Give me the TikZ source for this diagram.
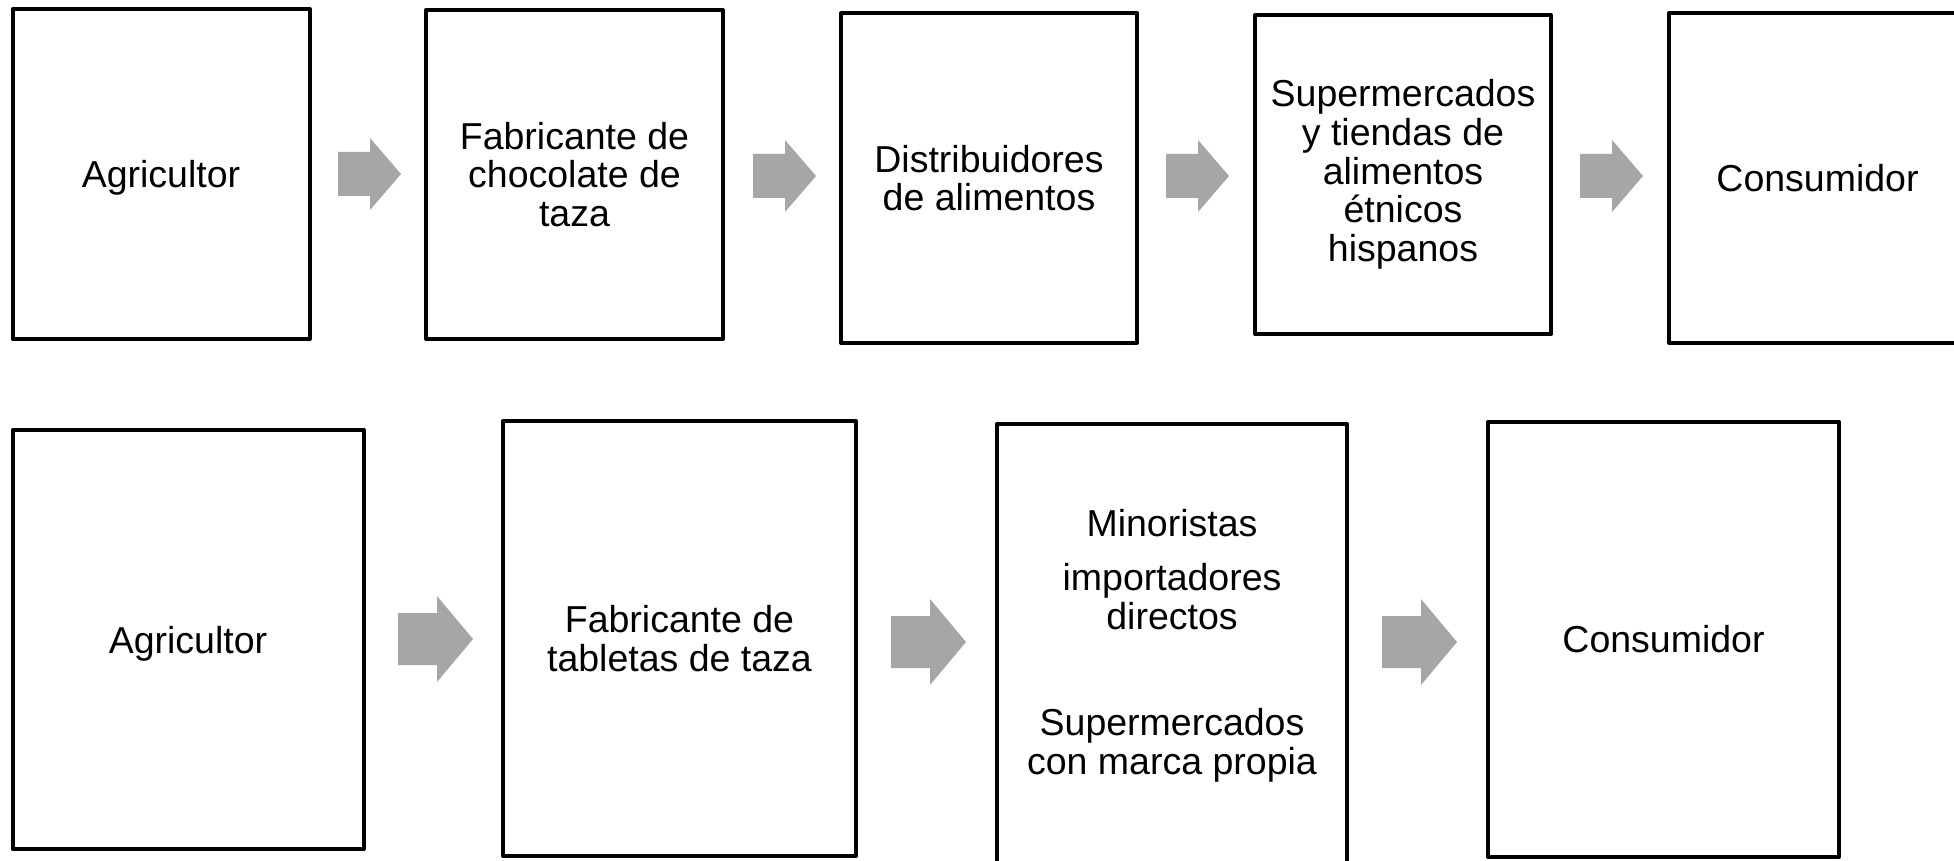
\documentclass[tikz,border=0pt]{standalone}
\usepackage{fontspec}
\setmainfont{Liberation Sans}
\definecolor{arrowgray}{RGB}{166,166,166}
\tikzset{
  lbl/.style={font=\fontsize{18.75pt}{19.4pt}\selectfont, align=center},
  box/.style={draw=black, line width=2pt, line join=round, fill=white,
    inner sep=0pt, outer sep=0pt, lbl},
  txt/.style={inner sep=0pt, lbl},
  wh/.style 2 args={minimum width=#1*0.5pt, minimum height=#2*0.5pt},
  toparrow/.pic={\fill[arrowgray] (0,-22) -- (32,-22) -- (32,-36) -- (63,0)
      -- (32,36) -- (32,22) -- (0,22) -- cycle;},
  botarrow/.pic={\fill[arrowgray] (0,-26) -- (39,-26) -- (39,-43) -- (75,0)
      -- (39,43) -- (39,26) -- (0,26) -- cycle;}
}
\begin{document}
\begin{tikzpicture}[x=0.5pt,y=-0.5pt]
\useasboundingbox (0,0) rectangle (1954,861);
\fill[white] (0,0) rectangle (1954,861);

% top row
\node[box, wh={297}{330}, text depth=0pt] (t1) at (161,174) {Agricultor};
\node[box, wh={297}{329}] (t2) at (574.5,174.5) {Fabricante de\\chocolate de\\taza};
\node[box, wh={296}{330}] (t3) at (989,178) {Distribuidores\\de alimentos};
\node[box, wh={296}{319}] (t4) at (1403,174.5) {Supermercados\\y tiendas de\\alimentos\\étnicos\\hispanos};
\node[box, wh={297}{330}] (t5) at (1817.5,178) {Consumidor};

\pic at (338,174) {toparrow};
\pic at (753,176) {toparrow};
\pic at (1166,176) {toparrow};
\pic at (1580,176) {toparrow};

% bottom row
\node[box, wh={351}{419}, text depth=0pt] (b1) at (188,639.5) {Agricultor};
\node[box, wh={353}{435}] (b2) at (679.5,638.5) {Fabricante de\\tabletas de taza};
\node[box, wh={350}{452}] (b3) at (1172,650) {};
\node[txt] (b3t) at (1172,646) {Minoristas\\[7.5pt]importadores\\directos\\[34pt]Supermercados\\con marca propia};
\node[box, wh={351}{435}] (b4) at (1663.5,639.5) {Consumidor};

\pic at (398,639) {botarrow};
\pic at (891,642) {botarrow};
\pic at (1382,642) {botarrow};
\end{tikzpicture}
\end{document}
